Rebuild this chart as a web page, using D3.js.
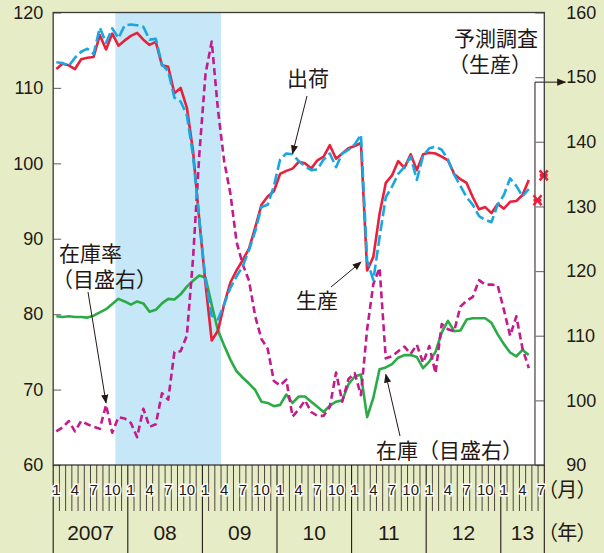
<!DOCTYPE html>
<html>
<meta charset="utf-8">
<title>生産・出荷・在庫の推移</title>
<style>
	body {
		margin: 0;
		background: #e6edc6;
	}

	svg {
		display: block;
	}

	.num {
		font-family: "Liberation Sans", Arial, sans-serif;
		fill: #231815;
	}

	.narrow {
		font-family: "Liberation Sans Narrow", "Arial Narrow", "Liberation Sans", sans-serif;
		fill: #231815;
	}

	.jp {
		font-family: "Noto Sans CJK JP", sans-serif;
		font-size: 21px;
		fill: #231815;
	}

	.palt {
		font-feature-settings: "palt";
	}

	.line {
		fill: none;
		stroke-width: 2.6;
		stroke-linejoin: round;
	}
</style>

<body>
	<svg id="chart" width="604" height="553"></svg>

	<script src="https://d3js.org/d3.v7.min.js"></script>
	<script>
		// months on the axis: Jan 2007 .. Jul 2013
		var months = d3.timeMonth.range(new Date(2007, 0, 1), new Date(2013, 7, 1));
		var years = ["2007", "08", "09", "10", "11", "12", "13"];
		var monthLabels = [1, 4, 7, 10];
		var leftTicks = [60, 70, 80, 90, 100, 110, 120];
		var rightTicks = [90, 100, 110, 120, 130, 140, 150, 160];

		// 生産 (left axis), Jan 2007 .. May 2013
		var production = [
			112.5, 113.2, 113.0, 112.5, 113.8, 114.0, 114.1, 117.0, 115.1, 117.2, 115.6, 116.3,
			116.9, 117.3, 116.4, 115.7, 116.1, 113.0, 112.8, 109.3, 110.0, 107.4, 101.6, 92.5,
			84.0, 76.5, 77.8, 81.3, 84.2, 85.8, 87.2, 88.7, 91.5, 94.5, 95.6, 96.3,
			98.6, 99.0, 99.3, 100.2, 100.0, 99.3, 100.4, 100.9, 102.4, 100.6, 101.3, 102.0,
			102.3, 102.7, 85.8, 87.6, 93.3, 97.4, 98.4, 100.3, 99.4, 101.2, 99.1, 101.2,
			101.4, 101.3, 100.9, 100.4, 98.6, 97.9, 97.4, 95.5, 93.9, 94.2, 93.4, 94.6,
			94.0, 94.9, 95.0, 95.8, 97.8
		];

		// 出荷 (left axis)
		var shipments = [
			113.4, 113.3, 112.9, 114.0, 114.8, 115.2, 114.5, 118.0, 116.0, 117.9, 116.6, 118.3,
			118.4, 118.3, 118.1, 116.4, 116.5, 113.1, 112.2, 108.7, 108.2, 106.4, 101.0, 92.6,
			84.5, 79.8, 79.3, 81.3, 83.5, 85.0, 86.4, 88.5, 91.0, 94.2, 94.5, 97.0,
			100.5, 101.3, 101.2, 100.3, 99.6, 99.1, 99.2, 100.5, 101.3, 99.5, 101.3, 101.8,
			102.5, 103.8, 87.1, 84.5, 90.2, 95.5, 96.9, 98.6, 99.5, 100.9, 97.8, 101.0,
			102.0, 102.2, 101.8, 100.5, 98.5, 97.0, 95.5, 94.5, 93.0, 92.5, 92.2, 94.5,
			95.8, 98.0, 97.0, 95.6, 96.6
		];

		// 在庫 (right axis)
		var inventory = [
			113.0, 112.9, 113.0, 112.9, 112.9, 112.8, 113.1, 113.6, 114.1, 114.9, 115.7, 115.3,
			114.8, 115.3, 115.0, 113.7, 114.0, 115.0, 115.7, 115.6, 116.4, 117.6, 118.5, 119.3,
			119.0, 114.8, 110.8, 108.5, 106.3, 104.5, 103.5, 102.6, 101.6, 99.8, 99.6, 99.1,
			99.3, 100.9, 99.6, 100.6, 100.6, 99.8, 99.0, 98.2, 99.2, 99.8, 100.0, 102.5,
			103.7, 104.0, 97.4, 100.4, 104.8, 105.1, 105.6, 106.6, 107.0, 107.0, 106.7, 105.0,
			106.0, 107.5, 110.5, 112.3, 110.7, 110.8, 112.5, 112.7, 112.7, 112.7, 112.0, 110.2,
			108.7, 107.4, 106.8, 107.8, 107.0
		];

		// 在庫率 (right axis)
		var inventoryRatio = [
			95.2, 95.8, 96.8, 95.2, 96.8, 96.3, 95.9, 95.6, 99.3, 95.0, 97.4, 97.2,
			96.5, 94.3, 98.7, 95.9, 96.3, 101.1, 100.1, 107.5, 107.6, 110.0, 122.0, 138.0,
			150.5, 155.5, 145.0, 137.0, 132.0, 124.5, 121.0, 118.5, 113.0, 109.5, 108.0, 103.0,
			102.3, 103.2, 97.5, 98.6, 100.0, 98.2, 97.6, 97.6, 99.0, 104.3, 99.8, 103.3,
			104.2, 100.8, 111.0, 118.0, 120.5, 106.5, 106.8, 107.6, 108.3, 107.2, 108.6, 105.8,
			108.4, 104.2, 111.8, 111.0, 110.7, 114.5, 115.4, 116.0, 118.6, 117.9, 117.9, 117.8,
			114.0, 110.0, 113.0, 108.0, 105.0
		];

		// 予測調査 (生産), Jun and Jul 2013
		var forecastIdx = [77, 78];
		var forecast = [95.1, 98.4];

		// shaded period: Nov 2007 .. Mar 2009
		var shadeFrom = 10, shadeTo = 27;

		var margin = {
			top: 12.5,
			right: 59.7,
			bottom: 88,
			left: 53.2
		},
			W = 604, H = 553,
			plotL = margin.left, plotR = W - margin.right,
			plotT = margin.top, plotB = H - margin.bottom;

		var svg = d3.select("#chart");

		var defs = svg.append("defs");
		defs.append("marker")
			.attr("id", "arr")
			.attr("viewBox", "0 0 10 10")
			.attr("refX", 9).attr("refY", 5)
			.attr("markerWidth", 9).attr("markerHeight", 9)
			.attr("markerUnits", "userSpaceOnUse")
			.attr("orient", "auto")
			.append("path")
			.attr("d", "M0,1L10,5L0,9Z")
			.attr("fill", "#231815");

		var x = d3.scaleBand()
			.domain(d3.range(months.length))
			.range([plotL, plotR])
			.padding(0);
		var bw = x.bandwidth();
		var cx = function (i) { return x(i) + bw / 2; };

		var yL = d3.scaleLinear().domain([60, 120]).range([plotB, plotT]);
		var yR = d3.scaleLinear().domain([90, 160]).range([plotB, plotT]);

		// plot background + shading
		svg.append("rect")
			.attr("x", plotL).attr("y", plotT)
			.attr("width", plotR - plotL).attr("height", plotB - plotT)
			.attr("fill", "#fff");

		svg.append("rect")
			.attr("x", x(shadeFrom)).attr("y", plotT)
			.attr("width", x(shadeTo) - x(shadeFrom)).attr("height", plotB - plotT)
			.attr("fill", "#c6e7f7");

		// forecast bracket
		var fx = cx(77);
		svg.append("path")
			.attr("d", "M" + fx + "," + plotB + "V" + (yR(150) + 5) + "H" + (plotR + 21))
			.attr("fill", "none").attr("stroke", "#231815").attr("stroke-width", 1)
			.attr("marker-end", "url(#arr)");

		// axes
		var axL = svg.append("g")
			.attr("transform", "translate(" + plotL + ",0)")
			.call(d3.axisLeft(yL).tickValues(leftTicks).tickSizeInner(-8).tickSizeOuter(0).tickPadding(10));
		var axR = svg.append("g")
			.attr("transform", "translate(" + plotR + ",0)")
			.call(d3.axisRight(yR).tickValues(rightTicks).tickSizeInner(-9).tickSizeOuter(0).tickPadding(22));
		[axL, axR].forEach(function (g) {
			g.select(".domain").remove();
			g.selectAll(".tick line").attr("stroke", "#777").attr("stroke-width", 1.2);
			g.selectAll(".tick text")
				.attr("class", "num")
				.style("font-size", "18px")
				.attr("fill", "#231815");
		});

		// series
		function series(data, y) {
			return d3.line()
				.x(function (d, i) { return cx(i); })
				.y(function (d) { return y(d); })(data);
		}

		svg.append("path").attr("class", "line")
			.attr("d", series(inventory, yR))
			.attr("stroke", "#2aab45");
		svg.append("path").attr("class", "line")
			.attr("d", series(inventoryRatio, yR))
			.attr("stroke", "#c41b8c")
			.attr("stroke-dasharray", "7,4");
		svg.append("path").attr("class", "line")
			.attr("d", series(production, yL))
			.attr("stroke", "#e8203c");
		svg.append("path").attr("class", "line")
			.attr("d", series(shipments, yL))
			.attr("stroke", "#18a7e1")
			.attr("stroke-dasharray", "11,4");

		// forecast marks
		svg.append("g").selectAll("path")
			.data(forecast)
			.enter().append("path")
			.attr("transform", function (d, i) {
				return "translate(" + (cx(forecastIdx[i]) + 2.5) + "," + yL(d) + ")";
			})
			.attr("d", "M-4,-5L4,5M4,-5L-4,5M-4,0H4")
			.attr("stroke", "#e8203c").attr("stroke-width", 2.6).attr("fill", "none");

		// frame
		svg.append("rect")
			.attr("x", plotL).attr("y", plotT)
			.attr("width", plotR - plotL).attr("height", plotB - plotT)
			.attr("fill", "none").attr("stroke", "#3a3a3a").attr("stroke-width", 1.3);

		// bottom month / year band
		var tickBot = plotB + 46;
		var ticks = svg.append("g");
		ticks.selectAll("line.m")
			.data(months.slice(1))
			.enter().append("line")
			.attr("x1", function (d, i) { return x(i + 1); })
			.attr("x2", function (d, i) { return x(i + 1); })
			.attr("y1", plotB)
			.attr("y2", function (d) { return d.getMonth() === 0 ? H : tickBot; })
			.attr("stroke", "#231815")
			.attr("stroke-width", function (d) { return d.getMonth() === 0 ? 1.1 : 0.8; });
		ticks.selectAll("line.e")
			.data([plotL, plotR])
			.enter().append("line")
			.attr("x1", function (d) { return d; }).attr("x2", function (d) { return d; })
			.attr("y1", plotB).attr("y2", H)
			.attr("stroke", "#231815").attr("stroke-width", 1.1);

		ticks.selectAll("text.m")
			.data(months.filter(function (d) { return monthLabels.indexOf(d.getMonth() + 1) >= 0; }))
			.enter().append("text")
			.attr("class", "narrow")
			.attr("x", function (d) { return cx(months.indexOf(d)); })
			.attr("y", plotB + 25)
			.attr("dy", "0.35em")
			.attr("text-anchor", "middle")
			.style("font-size", "15px")
			.attr("stroke", "#fff").attr("stroke-width", 3).attr("paint-order", "stroke")
			.text(function (d) { return d.getMonth() + 1; });

		ticks.selectAll("text.y")
			.data(years)
			.enter().append("text")
			.attr("class", "narrow")
			.attr("x", function (d, i) {
				var a = i * 12, b = Math.min(a + 12, months.length);
				return (x(a) + x(b - 1) + bw) / 2;
			})
			.attr("y", plotB + 68)
			.attr("dy", "0.35em")
			.attr("text-anchor", "middle")
			.style("font-size", "21px")
			.text(function (d) { return d; });

		svg.append("text").attr("class", "jp palt")
			.attr("x", plotR + 3).attr("y", plotB + 25).attr("dy", "0.35em")
			.style("font-size", "20px")
			.text("（月）");
		svg.append("text").attr("class", "jp palt")
			.attr("x", plotR + 3).attr("y", plotB + 68).attr("dy", "0.35em")
			.style("font-size", "20px")
			.text("（年）");

		// labels (two-line ones as one text with tspans)
		var notes = [
			{ t: ["予測調査", "（生産）"], x: [496, 490], y: 46, a: "middle" },
			{ t: ["出荷"], x: [308], y: 86, a: "middle" },
			{ t: ["生産"], x: [317], y: 308, a: "middle" },
			{ t: ["在庫率", "（目盛右）"], x: [59, 52], y: 261, a: "start" },
			{ t: ["在庫（目盛右）"], x: [376], y: 458, a: "start" }
		];
		var note = svg.append("g").selectAll("text")
			.data(notes)
			.enter().append("text")
			.attr("class", "jp")
			.attr("y", function (d) { return d.y; })
			.attr("text-anchor", function (d) { return d.a; });
		note.selectAll("tspan")
			.data(function (d) {
				return d.t.map(function (s, i) { return { s: s, x: d.x[i], dy: i ? 25.5 : 0 }; });
			})
			.enter().append("tspan")
			.attr("x", function (d) { return d.x; })
			.attr("dy", function (d) { return d.dy; })
			.text(function (d) { return d.s; });

		// arrows: from a label to a point on a series
		var arrows = [
			{ x0: 307, y0: 96, i: 38, v: 101.3, y: yL },
			{ x0: 331, y0: 287, i: 49, v: 86.9, y: yL },
			{ x0: 88, y0: 292, i: 8, v: 99.6, y: yR },
			{ x0: 400, y0: 436, i: 53, v: 104.0, y: yR }
		];
		svg.append("g").selectAll("line")
			.data(arrows)
			.enter().append("line")
			.attr("x1", function (d) { return d.x0; })
			.attr("y1", function (d) { return d.y0; })
			.attr("x2", function (d) { return cx(d.i); })
			.attr("y2", function (d) { return d.y(d.v); })
			.attr("stroke", "#231815").attr("stroke-width", 1)
			.attr("marker-end", "url(#arr)");
	</script>
</body>

</html>
